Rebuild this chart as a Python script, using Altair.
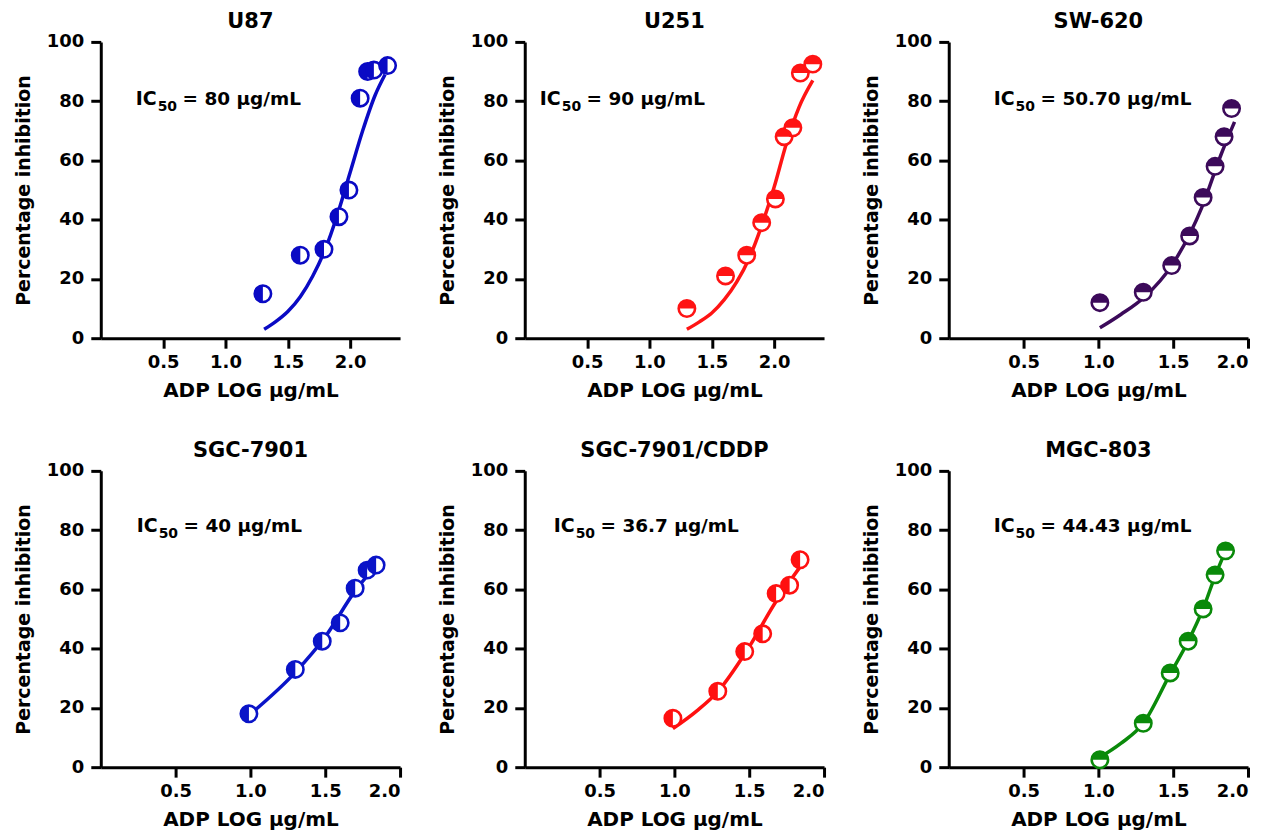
import altair as alt
import pandas as pd

FONT = "DejaVu Sans"

# ---------------- data ----------------
names = ["U87", "U251", "SW-620", "SGC-7901", "SGC-7901/CDDP", "MGC-803"]
ic50_text = ["= 80 μg/mL", "= 90 μg/mL", "= 50.70 μg/mL",
             "= 40 μg/mL", "= 36.7 μg/mL", "= 44.43 μg/mL"]
colors = ["#0a0ac4", "#ff1414", "#3c0a5a", "#0a14c8", "#ff1010", "#0a8a0a"]
x_max = [2.4, 2.4, 2.0, 2.0, 2.0, 2.0]
half = ["left", "top", "top", "left", "left", "top"]

# measured points (log dose, % inhibition)
u87_x = [1.30, 1.60, 1.79, 1.91, 1.99, 2.08, 2.14, 2.19, 2.30]
u87_y = [15, 28, 30, 41, 50, 81, 90, 90.5, 92]
u251_x = [1.30, 1.61, 1.78, 1.90, 2.01, 2.08, 2.15, 2.21, 2.31]
u251_y = [10, 21, 28, 39, 47, 68, 71, 89.5, 92.5]
sw620_x = [1.01, 1.30, 1.49, 1.61, 1.70, 1.78, 1.84, 1.89]
sw620_y = [12, 15.5, 24.5, 34.5, 47.5, 58, 68, 77.5]
sgc_x = [0.99, 1.30, 1.48, 1.60, 1.70, 1.78, 1.84]
sgc_y = [18, 33, 42.5, 48.7, 60.4, 66.5, 68.2]
cddp_x = [0.99, 1.29, 1.47, 1.59, 1.68, 1.77, 1.84]
cddp_y = [16.5, 25.6, 39, 45, 58.6, 61.4, 70]
mgc_x = [1.01, 1.30, 1.48, 1.60, 1.70, 1.78, 1.85]
mgc_y = [2.5, 14.8, 31.8, 42.5, 53.4, 64.9, 73]

# fitted curves
u87_cx = [1.31, 1.40, 1.50, 1.60, 1.70, 1.80, 1.90, 2.00, 2.10, 2.20, 2.28]
u87_cy = [3, 5.5, 9, 14, 21, 30, 42, 56, 70, 82, 89]
u251_cx = [1.30, 1.40, 1.50, 1.60, 1.70, 1.80, 1.90, 2.00, 2.10, 2.20, 2.31]
u251_cy = [3, 5.5, 8.5, 13, 19, 27, 38, 51, 66, 78, 87]
sw620_cx = [1.01, 1.15, 1.31, 1.49, 1.69, 1.82, 1.91]
sw620_cy = [3.5, 8, 14, 24.5, 44, 62, 73]
sgc_cx = [0.99, 1.30, 1.50, 1.70, 1.84]
sgc_cy = [17.5, 32, 44, 59.5, 68]
cddp_cx = [0.99, 1.15, 1.29, 1.48, 1.68, 1.84]
cddp_cy = [13, 19, 25.5, 39, 56, 67.6]
mgc_cx = [1.0, 1.15, 1.30, 1.48, 1.60, 1.70, 1.78, 1.85]
mgc_cy = [3, 8, 14.8, 31.5, 42.5, 53.5, 64.5, 73]

pts = [(u87_x, u87_y), (u251_x, u251_y), (sw620_x, sw620_y),
       (sgc_x, sgc_y), (cddp_x, cddp_y), (mgc_x, mgc_y)]
curves = [(u87_cx, u87_cy), (u251_cx, u251_cy), (sw620_cx, sw620_cy),
          (sgc_cx, sgc_cy), (cddp_cx, cddp_cy), (mgc_cx, mgc_cy)]

x_ticks = [0.5, 1.0, 1.5, 2.0]
y_ticks = [0, 20, 40, 60, 80, 100]

# annotation placement (pixels inside each plot)
ann_x = [35, 15, 45, 36, 29, 45]
ann_y = [63, 63, 63, 61, 61, 61]

HALF_PATH = {
    "left": "M 0 -1 A 1 1 0 0 0 0 1 Z",
    "top": "M -1 0 A 1 1 0 0 1 1 0 Z",
}

W, H = 300, 297
MSIZE = 270


def axis_style(**kw):
    return dict(grid=False, domainColor="black", domainWidth=3,
                tickColor="black", tickWidth=3, tickSize=10,
                labelFont=FONT, labelFontSize=18, labelFontWeight="bold",
                labelColor="black", titleFont=FONT, titleFontWeight="bold",
                titleColor="black", **kw)


def panel(i):
    px, py = pts[i]
    cx, cy = curves[i]
    color = colors[i]
    dpts = pd.DataFrame({"x": px, "y": py})
    dcur = pd.DataFrame({"x": cx, "y": cy})
    xs = alt.Scale(domain=[0, x_max[i]], nice=False, zero=False)
    ys = alt.Scale(domain=[0, 100], nice=False)
    xenc = alt.X("x:Q", scale=xs,
                 axis=alt.Axis(values=x_ticks, format=".1f", title="ADP LOG μg/mL",
                               **axis_style(labelPadding=5, titleFontSize=20,
                                            titlePadding=9)))
    yenc = alt.Y("y:Q", scale=ys,
                 axis=alt.Axis(values=y_ticks, title="Percentage inhibition",
                               **axis_style(labelPadding=7, titleFontSize=19,
                                            titlePadding=13)))
    line = alt.Chart(dcur).mark_line(color=color, strokeWidth=3.5,
                                     interpolate="monotone").encode(x=xenc, y=yenc)
    ring = alt.Chart(dpts).mark_point(shape="circle", filled=True, fill="white",
                                      stroke=color, strokeWidth=2.6, size=MSIZE,
                                      opacity=1).encode(x="x:Q", y="y:Q")
    halfm = alt.Chart(dpts).mark_point(shape=HALF_PATH[half[i]], filled=True,
                                       fill=color, strokeWidth=0, size=MSIZE,
                                       opacity=1).encode(x="x:Q", y="y:Q")
    one = pd.DataFrame({"t": ["IC"], "s": ["50"], "r": [ic50_text[i]]})
    base = alt.Chart(one)
    t1 = base.mark_text(align="left", baseline="alphabetic", font=FONT,
                        fontSize=19, fontWeight="bold", color="black").encode(
        x=alt.value(ann_x[i]), y=alt.value(ann_y[i]), text="t:N")
    t2 = base.mark_text(align="left", baseline="alphabetic", font=FONT,
                        fontSize=14, fontWeight="bold", color="black").encode(
        x=alt.value(ann_x[i] + 22), y=alt.value(ann_y[i] + 6), text="s:N")
    t3 = base.mark_text(align="left", baseline="alphabetic", font=FONT,
                        fontSize=18.5, fontWeight="bold", color="black").encode(
        x=alt.value(ann_x[i] + 47), y=alt.value(ann_y[i]), text="r:N")
    return alt.layer(line, ring, halfm, t1, t2, t3).properties(
        width=W, height=H,
        title=alt.TitleParams(names[i], font=FONT, fontSize=21, fontWeight="bold",
                              color="black", anchor="middle", offset=1))


charts = [panel(i) for i in range(6)]

chart = alt.concat(*charts, columns=3, bounds="flush",
                   spacing=alt.RowColnumber(row=133, column=125)).properties(
    padding={"left": 6, "top": 2, "right": 5, "bottom": 0},
    background="white"
).configure_view(stroke=None)

chart.save("out.html", embed_options={"renderer": "svg", "actions": False})
